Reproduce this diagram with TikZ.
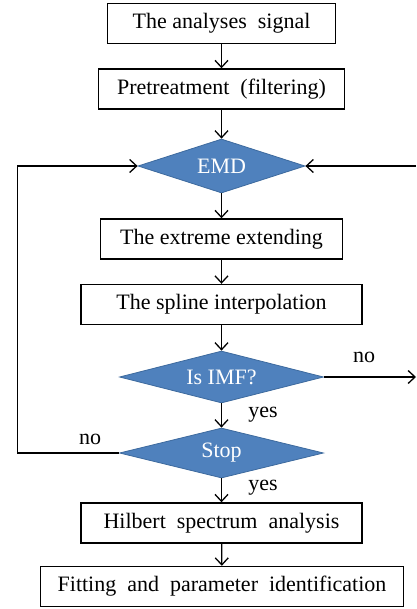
\documentclass[tikz,border=0pt]{standalone}
\usepackage{fontspec}
\setmainfont{Liberation Serif}
\usetikzlibrary{shapes.geometric,arrows.meta}
\definecolor{decf}{HTML}{4F81BD}
\definecolor{decb}{HTML}{3D6A9E}
\begin{document}
\begin{tikzpicture}[x=1pt,y=-1pt,
  txt/.style={font=\fontsize{22}{26}\selectfont},
  box/.style={txt, draw, line width=1.4pt, inner sep=0pt, minimum height=40pt},
  dec/.style={txt, diamond, draw=decb, fill=decf, line width=0.8pt, inner sep=0pt, aspect=3, text=white},
  arr/.style={-{Straight Barb[length=7pt,width=13pt]}, line width=1.3pt}]
\useasboundingbox (0,0) rectangle (416,609);
\node[box, minimum width=228pt] (b1) at (221.5,23.5) {The analyses\ \ signal};
\node[box, minimum width=246pt] (b2) at (221.5,89) {Pretreatment\ \ (filtering)};
\node[dec, minimum width=167pt, minimum height=54pt] (emd) at (221.5,166) {EMD};
\node[box, minimum width=242pt] (b3) at (221.5,239) {The\ extreme\ extending};
\node[box, minimum width=281pt] (b4) at (221.5,304.5) {The\ spline\ interpolation};
\node[dec, minimum width=204pt, minimum height=52pt] (imf) at (221.5,377) {Is IMF?};
\node[dec, minimum width=204pt, minimum height=50pt] (stop) at (221.5,453) {Stop};
\node[box, minimum width=281pt] (b5) at (221.5,523) {Hilbert\ \ spectrum\ \ analysis};
\node[box, minimum width=363pt] (b6) at (222,586.5) {Fitting\ \ and\ \ parameter\ \ identification};
\node[txt] (no1) at (364,357) {no};
\node[txt] (yes1) at (263,415) {yes};
\node[txt] (no2) at (90,439) {no};
\node[txt] (yes2) at (263,488) {yes};
\coordinate (r1) at (416,166);
\coordinate (r2) at (416,377);
\coordinate (lc) at (17.5,453);
\draw[arr] (b1) -- (b2);
\draw[arr] (b2) -- (emd);
\draw[arr] (emd) -- (b3);
\draw[arr] (b3) -- (b4);
\draw[arr] (b4) -- (imf);
\draw[arr] (imf) -- (stop);
\draw[arr] (stop) -- (b5);
\draw[arr] (b5) -- (b6);
\draw[arr] (r1) -- (emd.east);
\draw[arr] (imf.east) -- (r2);
\draw[arr] (stop.west) -- (lc) |- (emd.west);
\end{tikzpicture}
\end{document}
